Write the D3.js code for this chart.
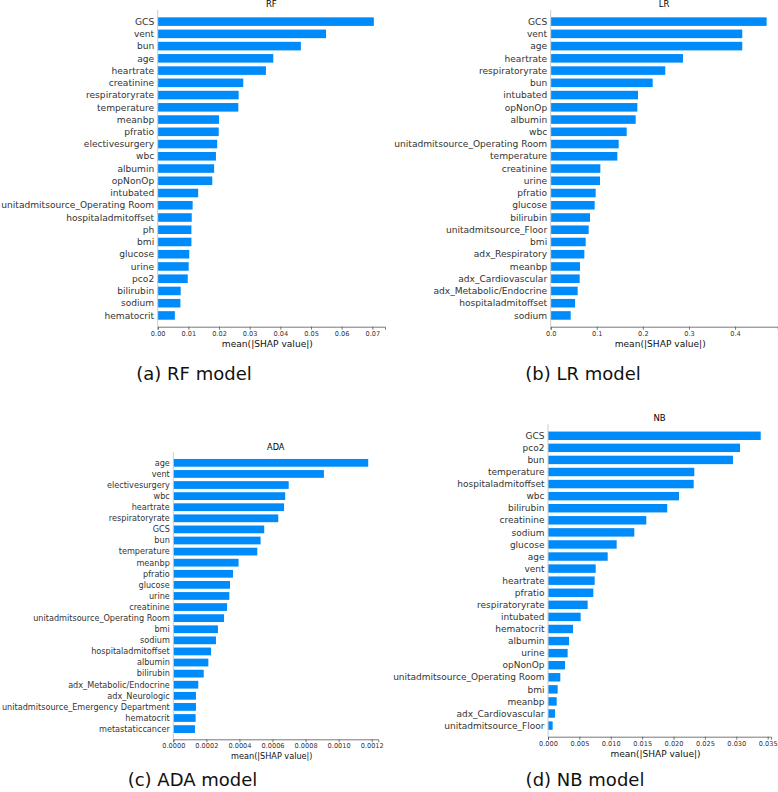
<!DOCTYPE html>
<html>
<head>
<meta charset="utf-8">
<script src="https://cdn.jsdelivr.net/npm/d3@7"></script>
<style>
  html, body { margin: 0; padding: 0; background: #fff; }
  svg { display: block; }
</style>
</head>
<body>
<svg id="chart" width="778" height="792"></svg>
<script>
// ---------- DATA ----------
const rfFeatures = ["GCS","vent","bun","age","heartrate","creatinine","respiratoryrate","temperature","meanbp","pfratio","electivesurgery","wbc","albumin","opNonOp","intubated","unitadmitsource_Operating Room","hospitaladmitoffset","ph","bmi","glucose","urine","pco2","bilirubin","sodium","hematocrit"];
const rfValues = [0.0705,0.0549,0.0467,0.0377,0.0353,0.0279,0.0264,0.0263,0.0200,0.0199,0.0194,0.0190,0.0184,0.0178,0.0132,0.0114,0.0111,0.0110,0.0110,0.0103,0.0101,0.0098,0.0075,0.0074,0.0056];
const rfTicks = [0,0.01,0.02,0.03,0.04,0.05,0.06,0.07];

const lrFeatures = ["GCS","vent","age","heartrate","respiratoryrate","bun","intubated","opNonOp","albumin","wbc","unitadmitsource_Operating Room","temperature","creatinine","urine","pfratio","glucose","bilirubin","unitadmitsource_Floor","bmi","adx_Respiratory","meanbp","adx_Cardiovascular","adx_Metabolic/Endocrine","hospitaladmitoffset","sodium"];
const lrValues = [0.4686,0.4157,0.4157,0.2870,0.2486,0.2213,0.1894,0.1880,0.1844,0.1649,0.1475,0.1446,0.1077,0.1070,0.0976,0.0954,0.0853,0.0824,0.0759,0.0730,0.0636,0.0629,0.0585,0.0528,0.0434];
const lrTicks = [0,0.1,0.2,0.3,0.4];

const adaFeatures = ["age","vent","electivesurgery","wbc","heartrate","respiratoryrate","GCS","bun","temperature","meanbp","pfratio","glucose","urine","creatinine","unitadmitsource_Operating Room","bmi","sodium","hospitaladmitoffset","albumin","bilirubin","adx_Metabolic/Endocrine","adx_Neurologic","unitadmitsource_Emergency Department","hematocrit","metastaticcancer"];
const adaValues = [0.001179,0.000911,0.000698,0.000677,0.000670,0.000635,0.000550,0.000528,0.000508,0.000395,0.000361,0.000343,0.000339,0.000325,0.000307,0.000270,0.000258,0.000228,0.000212,0.000184,0.000151,0.000137,0.000137,0.000135,0.000131];
const adaTicks = [0,0.0002,0.0004,0.0006,0.0008,0.0010,0.0012];

const nbFeatures = ["GCS","pco2","bun","temperature","hospitaladmitoffset","wbc","bilirubin","creatinine","sodium","glucose","age","vent","heartrate","pfratio","respiratoryrate","intubated","hematocrit","albumin","urine","opNonOp","unitadmitsource_Operating Room","bmi","meanbp","adx_Cardiovascular","unitadmitsource_Floor"];
const nbValues = [0.03389,0.03060,0.02947,0.02331,0.02321,0.02087,0.01900,0.01566,0.01375,0.01094,0.00951,0.00760,0.00744,0.00722,0.00632,0.00520,0.00398,0.00335,0.00313,0.00271,0.00196,0.00154,0.00138,0.00112,0.00074];
const nbTicks = [0,0.005,0.010,0.015,0.020,0.025,0.030,0.035];

const titles = ["RF","LR","ADA","NB"];
const captions = ["(a) RF model","(b) LR model","(c) ADA model","(d) NB model"];
const axisLabel = "mean(|SHAP value|)";

// ---------- LAYOUT ----------
const panels = [
  {features: rfFeatures, values: rfValues, ticks: rfTicks, fmt: ".2f", title: titles[0], caption: captions[0],
   left: 157.7, right: 385, top: 10, bottom: 326.7, xmax: 0.07414, titleY: 7, capX: 194, capY: 380, fs: 9.1, ts: 8.5},
  {features: lrFeatures, values: lrValues, ticks: lrTicks, fmt: ".1f", title: titles[1], caption: captions[1],
   left: 550.7, right: 777.7, top: 10, bottom: 326.7, xmax: 0.4926, titleY: 7, capX: 583, capY: 380, fs: 9.1, ts: 8.5},
  {features: adaFeatures, values: adaValues, ticks: adaTicks, fmt: ".4f", title: titles[2], caption: captions[2],
   left: 173.3, right: 378.3, top: 452.3, bottom: 739.3, xmax: 0.00124, titleY: 450, capX: 192.5, capY: 786, fs: 8.15, ts: 8.2},
  {features: nbFeatures, values: nbValues, ticks: nbTicks, fmt: ".3f", title: titles[3], caption: captions[3],
   left: 548, right: 771, top: 424.3, bottom: 736.7, xmax: 0.03553, titleY: 421, capX: 585, capY: 786, fs: 9, ts: 8.5}
];

const svg = d3.select("#chart");
const barColor = "#008bfb";
const font = "DejaVu Sans, sans-serif";

panels.forEach(p => {
  const n = p.features.length;
  const x = d3.scaleLinear().domain([0, p.xmax]).range([p.left, p.right]);
  const y = d3.scaleLinear().domain([-0.95, n - 0.08]).range([p.top, p.bottom]);
  const step = y(1) - y(0);
  const bh = step * 0.7;
  const g = svg.append("g");

  // bars
  g.selectAll("rect.bar").data(p.values).join("rect")
    .attr("class", "bar")
    .attr("x", x(0))
    .attr("y", (d, i) => y(i) - bh / 2)
    .attr("width", d => x(d) - x(0))
    .attr("height", bh)
    .attr("fill", barColor);

  // left line
  g.append("line")
    .attr("x1", x(0)).attr("x2", x(0))
    .attr("y1", p.top).attr("y2", p.bottom)
    .attr("stroke", "#cccccc").attr("stroke-width", 1);

  // feature labels
  g.selectAll("text.feat").data(p.features).join("text")
    .attr("class", "feat")
    .attr("x", x(0) - 3.5)
    .attr("y", (d, i) => y(i))
    .attr("dy", "0.35em")
    .attr("text-anchor", "end")
    .attr("font-family", font)
    .attr("font-size", p.fs)
    .attr("fill", "#333")
    .text(d => d);

  // x axis
  const axis = d3.axisBottom(x).tickValues(p.ticks).tickFormat(d3.format(p.fmt)).tickSize(3).tickPadding(1.5);
  const ax = g.append("g").attr("transform", `translate(0,${p.bottom})`).call(axis);
  ax.select(".domain").attr("stroke", "#555").attr("stroke-width", 0.8);
  ax.selectAll(".tick line").attr("stroke", "#555").attr("stroke-width", 0.8);
  ax.selectAll(".tick text").attr("font-family", font).attr("font-size", 6.6).attr("fill", "#333");

  // axis label
  g.append("text")
    .attr("x", (p.left + p.right) / 2 - 4)
    .attr("y", p.bottom + 20)
    .attr("text-anchor", "middle")
    .attr("font-family", font)
    .attr("font-size", p.fs)
    .attr("fill", "#111")
    .text(axisLabel);

  // title
  g.append("text")
    .attr("x", (p.left + p.right) / 2)
    .attr("y", p.titleY)
    .attr("text-anchor", "middle")
    .attr("font-family", font)
    .attr("font-size", p.ts)
    .attr("fill", "#000")
    .text(p.title);

  // caption
  svg.append("text")
    .attr("x", p.capX)
    .attr("y", p.capY)
    .attr("text-anchor", "middle")
    .attr("font-family", font)
    .attr("font-size", 18)
    .attr("fill", "#111")
    .text(p.caption);
});
</script>
</body>
</html>
